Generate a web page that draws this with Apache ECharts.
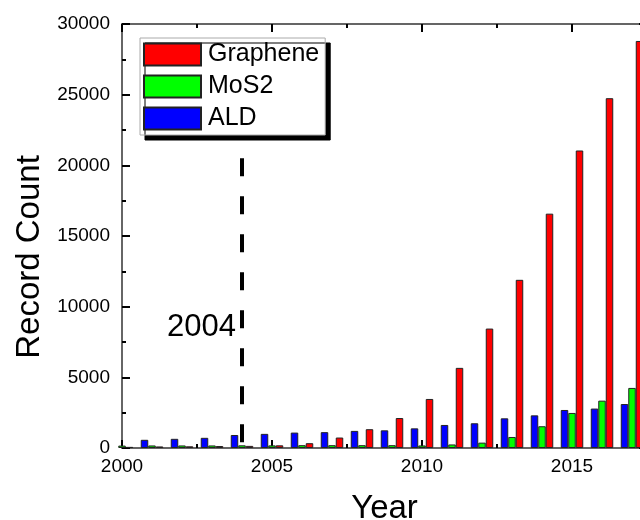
<!DOCTYPE html>
<html>
<head>
<meta charset="utf-8">
<script src="https://cdn.jsdelivr.net/npm/echarts@6/dist/echarts.min.js"></script>
<style>
  html, body { margin: 0; padding: 0; background: #fff; }
  #chart { width: 640px; height: 520px; }
</style>
</head>
<body>
<div id="chart"></div>
<script>
// Yearly record counts per topic
const years = [2000, 2001, 2002, 2003, 2004, 2005, 2006, 2007, 2008,
               2009, 2010, 2011, 2012, 2013, 2014, 2015, 2016, 2017];
const graphene = [80, 110, 120, 140, 150, 190, 340, 740, 1330,
                  2120, 3470, 5670, 8450, 11900, 16580, 21050, 24750, 28800];
const mos2 = [170, 180, 180, 180, 190, 185, 200, 200, 200,
              200, 180, 250, 380, 780, 1540, 2480, 3350, 4250];
const ald = [null, 580, 650, 720, 920, 1000, 1090, 1120, 1210,
             1250, 1390, 1630, 1750, 2100, 2310, 2690, 2790, 3110];

// Vertical marker
const markerYear = 2004;
const markerText = '2004';
const markerTop = 20500;
const markerTextLevel = 8500;

const FONT = '"Liberation Sans", Arial, sans-serif';
const X_MIN = 2000, X_MAX = 2017.5;
const LINE = { color: '#333', width: 1.5 };
const TICK = { color: '#000', width: 2 };
const plain = v => String(v);

const toPairs = arr => years.map((y, i) => [y, arr[i]]);

const barStyle = color => ({ color: color, borderColor: '#222', borderWidth: 1 });

function xAxisDef(position, interval, tickLen, withLine, withLabels) {
  const ax = {
    type: 'value', position: position, min: X_MIN, max: X_MAX, interval: interval,
    axisLine: { show: withLine, onZero: false, lineStyle: LINE },
    axisTick: { show: true, inside: true, length: tickLen, lineStyle: TICK },
    axisLabel: { show: false },
    splitLine: { show: false }
  };
  if (withLabels) {
    ax.axisLabel = {
      show: true, margin: 9, fontSize: 19, color: '#000', fontFamily: FONT,
      showMaxLabel: false, formatter: plain
    };
    ax.name = 'Year';
    ax.nameLocation = 'middle';
    ax.nameGap = 44;
    ax.nameTextStyle = { fontSize: 33, fontFamily: FONT, color: '#000' };
  }
  return ax;
}

function yAxisDef(position, withLabels) {
  const ax = {
    type: 'value', position: position, min: 0, max: 30000, interval: 5000,
    axisLine: { show: true, onZero: false, lineStyle: LINE },
    axisTick: { show: true, inside: true, length: 8, lineStyle: TICK },
    minorTick: { show: true, splitNumber: 2, length: 4, lineStyle: TICK },
    axisLabel: { show: false },
    splitLine: { show: false }
  };
  if (withLabels) {
    ax.axisLabel = { show: true, margin: 12, fontSize: 19, color: '#000', fontFamily: FONT,
                     formatter: plain };
    ax.name = 'Record Count';
    ax.nameLocation = 'middle';
    ax.nameGap = 76;
    ax.nameTextStyle = { fontSize: 33, fontFamily: FONT, color: '#000', padding: [0, 42, 0, 0] };
  }
  return ax;
}

const chart = echarts.init(document.getElementById('chart'), null, { renderer: 'canvas' });

chart.setOption({
  animation: false,
  backgroundColor: '#fff',
  grid: { left: 122, top: 24, width: 525, height: 424, outerBoundsMode: 'none', containLabel: false },
  legend: {
    data: ['Graphene', 'MoS2', 'ALD'],
    orient: 'vertical',
    left: 140, top: 38,
    padding: [4, 6, 4, 3],
    itemWidth: 57, itemHeight: 22, itemGap: 7,
    icon: 'rect',
    backgroundColor: '#fff',
    borderColor: '#aaa', borderWidth: 1,
    shadowColor: '#000', shadowBlur: 0, shadowOffsetX: 5, shadowOffsetY: 5,
    textStyle: { fontSize: 25, fontFamily: FONT, color: '#000', padding: [0, 0, 0, 2] }
  },
  xAxis: [
    xAxisDef('bottom', 5, 8, true, true),
    xAxisDef('bottom', 2.5, 4, false, false),
    xAxisDef('top', 5, 8, true, false),
    xAxisDef('top', 2.5, 4, false, false)
  ],
  yAxis: [
    yAxisDef('left', true),
    yAxisDef('right', false)
  ],
  series: [
    { name: 'ALD', type: 'bar', data: toPairs(ald), barWidth: 7.5, barGap: '0%',
      itemStyle: barStyle('#0000ff') },
    { name: 'MoS2', type: 'bar', data: toPairs(mos2), barWidth: 7.5, barGap: '0%',
      itemStyle: barStyle('#00ff00') },
    { name: 'Graphene', type: 'bar', data: toPairs(graphene), barWidth: 7.5, barGap: '0%',
      itemStyle: barStyle('#ff0000') },
    {
      type: 'custom', clip: false, silent: true, z: 5,
      data: [[markerYear, markerTop]],
      renderItem: function (params, api) {
        const top = api.coord([api.value(0), api.value(1)]);
        const base = api.coord([api.value(0), 0]);
        const lbl = api.coord([api.value(0), markerTextLevel]);
        return {
          type: 'group',
          children: [
            { type: 'line',
              shape: { x1: top[0], y1: top[1], x2: base[0], y2: base[1] + 3 },
              style: { stroke: '#000', lineWidth: 4, lineDash: [18, 20] } },
            { type: 'text', x: lbl[0] - 6, y: lbl[1],
              style: { text: markerText, fontSize: 31, fontFamily: FONT, fill: '#000',
                       align: 'right', verticalAlign: 'middle' } }
          ]
        };
      }
    }
  ]
});
</script>
</body>
</html>
